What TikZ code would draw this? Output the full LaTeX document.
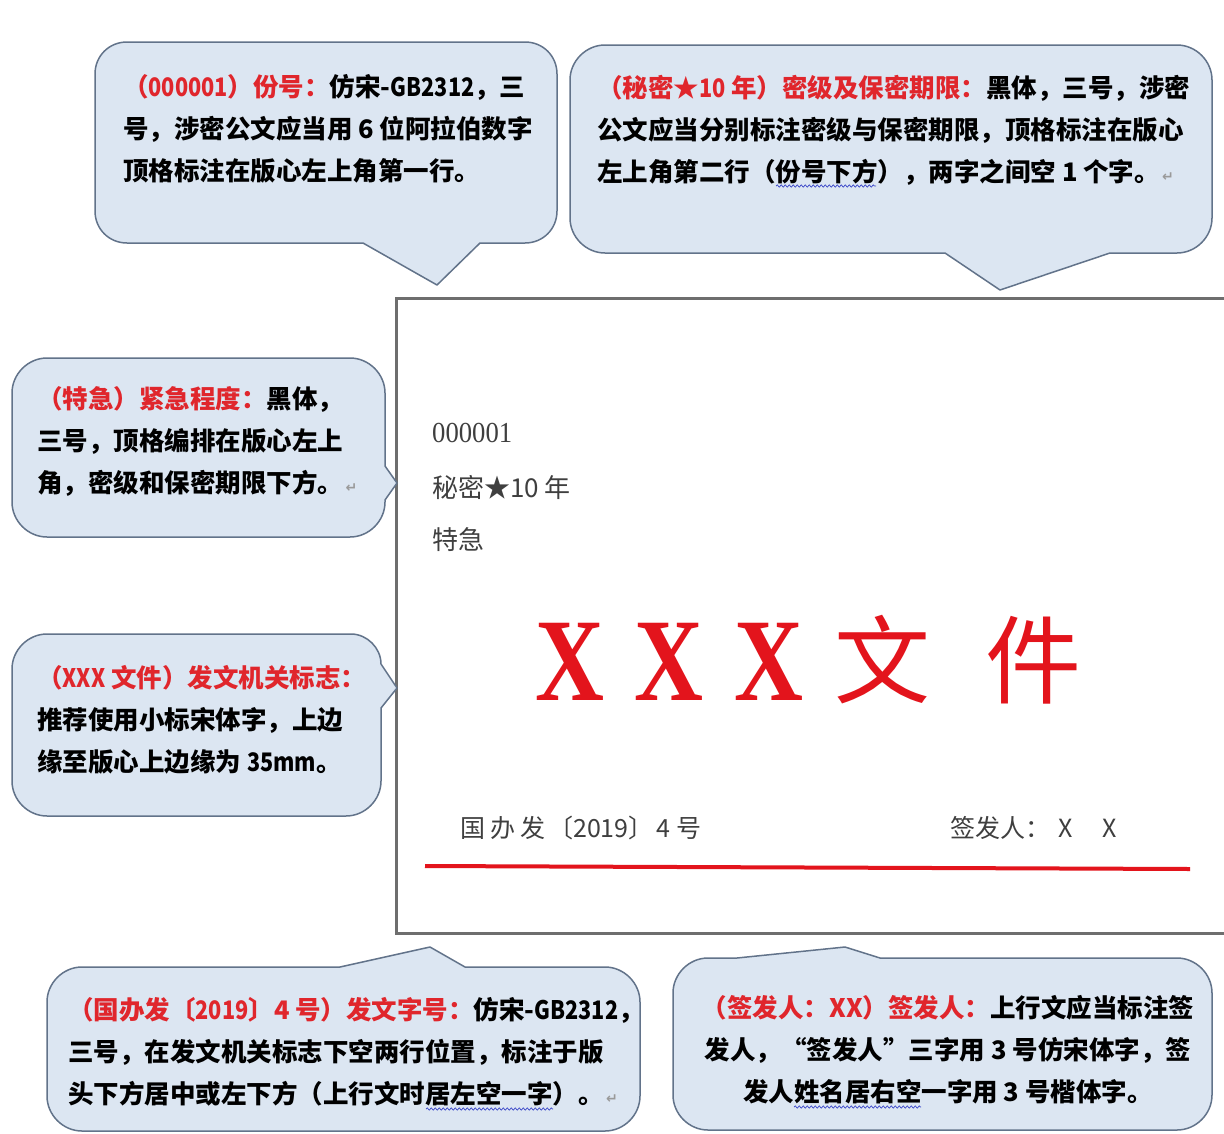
\documentclass[tikz,border=0pt]{standalone}
\usepackage{fontspec}
\usepackage{graphicx}
\usetikzlibrary{decorations.pathmorphing}
\setmainfont{Liberation Serif}
\newfontfamily\cjk{Noto Sans CJK SC}
\newfontfamily\symfont{DejaVu Sans}
\definecolor{calloutfill}{HTML}{DCE6F2}
\definecolor{calloutline}{HTML}{62738A}
\definecolor{labelred}{HTML}{E0262C}
\definecolor{docred}{HTML}{E3141C}
\definecolor{docgray}{HTML}{3F3F3F}
\definecolor{boxgray}{HTML}{6E6E6E}
\definecolor{markgray}{HTML}{9A9A9A}
\definecolor{wavyblue}{HTML}{3A46C8}
\newcommand{\lbl}[1]{{\color{labelred}#1}}
\newcommand{\lat}[1]{\scalebox{0.85}[1]{#1}}
\newcommand{\pmark}{{\symfont\color{markgray}\fontsize{14}{14}\selectfont\,↵}}
\tikzset{
  calloutshape/.style={draw=calloutline, fill=calloutfill, line width=1.5pt, line join=round},
  callouttext/.style={anchor=west, align=left, inner sep=0pt, text=black,
     font=\cjk\bfseries\fontsize{25.5}{42}\selectfont},
  doctext/.style={anchor=west, inner sep=0pt, text=docgray, font=\cjk\fontsize{25}{25}\selectfont},
  docframe/.style={draw=boxgray, line width=3pt},
  redrule/.style={draw=docred, line width=4pt},
  wavyline/.style={draw=wavyblue, line width=0.7pt, decorate,
     decoration={snake, amplitude=1.1pt, segment length=4pt}},
}
\begin{document}
\begin{tikzpicture}[x=1pt,y=-1pt]
\useasboundingbox[fill=white] (0,0) rectangle (1224,1133);

% ---------- document page ----------
\draw[docframe] (1226,298) -- (396,298) -- (396,933) -- (1226,933);

\node[doctext, font=\fontsize{29}{29}\selectfont] (fenhao) at (432,433) {\scalebox{0.92}[1]{000001}};
\node[doctext, font=\cjk\fontsize{26}{26}\selectfont] (miji) at (432,487) {秘密★10 年};
\node[doctext, font=\cjk\fontsize{26}{26}\selectfont] (teji) at (432,540) {特急};
\node[anchor=base west, inner sep=0pt, text=docred, font=\bfseries\fontsize{118}{118}\selectfont]
  (titlex) at (535,700) {\scalebox{0.81}[1]{X\hspace{38pt}X\hspace{38pt}X}};
\node[anchor=base west, inner sep=0pt, text=docred, font=\cjk\fontsize{96}{96}\selectfont]
  (titlecn) at (834,696) {文\hspace{55pt}件};
\node[doctext] (wenhao) at (460,828) {国\hspace{5pt}办\hspace{5pt}发\hspace{3pt}〔2019〕\hspace{3pt}4\hspace{6pt}号};
\node[doctext] (qianfa) at (950,828) {签发人：\hspace{8pt}X\hspace{30pt}X};
\coordinate (ruleL) at (425,866);
\coordinate (ruleR) at (1190,869);
\draw[redrule] (ruleL) -- (ruleR);

% ---------- callout 1: top left ----------
\path[calloutshape] (127,42) -- (525,42) .. controls (543,42) and (557,56) .. (557,74) -- (557,211)
  .. controls (557,229) and (543,243) .. (525,243) -- (480,243) -- (437,285) -- (363,243) -- (127,243)
  .. controls (109,243) and (95,229) .. (95,211) -- (95,74) .. controls (95,56) and (109,42) .. (127,42) -- cycle;
\node[callouttext] (c1) at (123,129) {\lbl{（\lat{000001}）份号：}仿宋-\lat{GB2312}，三\\
号，涉密公文应当用 6 位阿拉伯数字\\
顶格标注在版心左上角第一行。};

% ---------- callout 2: top right ----------
\path[calloutshape] (605,45) -- (1177,45) .. controls (1196,45) and (1212,61) .. (1212,80) -- (1212,218)
  .. controls (1212,237) and (1196,253) .. (1177,253) -- (1110,253) -- (1000,290) -- (945,253) -- (605,253)
  .. controls (586,253) and (570,237) .. (570,218) -- (570,80) .. controls (570,61) and (586,45) .. (605,45) -- cycle;
\node[callouttext] (c2) at (597,130) {\lbl{（秘密★\lat{10} 年）密级及保密期限：}黑体，三号，涉密\\
公文应当分别标注密级与保密期限，顶格标注在版心\\
左上角第二行（份号下方），两字之间空 1 个字。\pmark};
\coordinate (u2a) at (776,186);
\coordinate (u2b) at (876,186);
\draw[wavyline] (u2a) -- (u2b);

% ---------- callout 3: left, 特急 ----------
\path[calloutshape] (47,358) -- (350,358) .. controls (369,358) and (385,374) .. (385,393) -- (385,466)
  -- (397,483) -- (385,500) -- (385,502) .. controls (385,521) and (369,537) .. (350,537) -- (47,537)
  .. controls (28,537) and (12,521) .. (12,502) -- (12,393) .. controls (12,374) and (28,358) .. (47,358) -- cycle;
\node[callouttext] (c3) at (37,441) {\lbl{（特急）紧急程度：}黑体，\\
三号，顶格编排在版心左上\\
角，密级和保密期限下方。\pmark};

% ---------- callout 4: left, XXX文件 ----------
\path[calloutshape] (47,634) -- (351,634) .. controls (367,634) and (381,648) .. (381,664) -- (397,688)
  -- (381,708) -- (381,781) .. controls (381,800) and (365,816) .. (346,816) -- (47,816)
  .. controls (28,816) and (12,800) .. (12,781) -- (12,669) .. controls (12,650) and (28,634) .. (47,634) -- cycle;
\node[callouttext] (c4) at (37,720) {\lbl{（\lat{XXX} 文件）发文机关标志：}\\
推荐使用小标宋体字，上边\\
缘至版心上边缘为 \lat{35mm}。};

% ---------- callout 5: bottom left ----------
\path[calloutshape] (82,967) -- (340,967) -- (430,947) -- (465,967) -- (605,967)
  .. controls (624,967) and (640,983) .. (640,1002) -- (640,1096) .. controls (640,1115) and (624,1131) .. (605,1131)
  -- (82,1131) .. controls (63,1131) and (47,1115) .. (47,1096) -- (47,1002) .. controls (47,983) and (63,967) .. (82,967) -- cycle;
\node[callouttext] (c5) at (68,1052) {\lbl{（国办发〔\lat{2019}〕4 号）发文字号：}仿宋-\lat{GB2312}，\\
三号，在发文机关标志下空两行位置，标注于版\\
头下方居中或左下方（上行文时居左空一字）。\pmark};
\coordinate (u5a) at (426,1109);
\coordinate (u5b) at (553,1109);
\draw[wavyline] (u5a) -- (u5b);

% ---------- callout 6: bottom right ----------
\path[calloutshape] (708,958) -- (737,958) -- (845,947) -- (880,958) -- (1177,958)
  .. controls (1196,958) and (1212,974) .. (1212,993) -- (1212,1095) .. controls (1212,1114) and (1196,1130) .. (1177,1130)
  -- (708,1130) .. controls (689,1130) and (673,1114) .. (673,1095) -- (673,993) .. controls (673,974) and (689,958) .. (708,958) -- cycle;
\node[callouttext, anchor=center, align=center] (c6) at (948,1050) {\lbl{（签发人：XX）签发人：}上行文应当标注签\\
发人，“签发人”三字用 3 号仿宋体字，签\\
发人姓名居右空一字用 3 号楷体字。};
\coordinate (u6a) at (794,1107);
\coordinate (u6b) at (921,1107);
\draw[wavyline] (u6a) -- (u6b);
\end{tikzpicture}
\end{document}
